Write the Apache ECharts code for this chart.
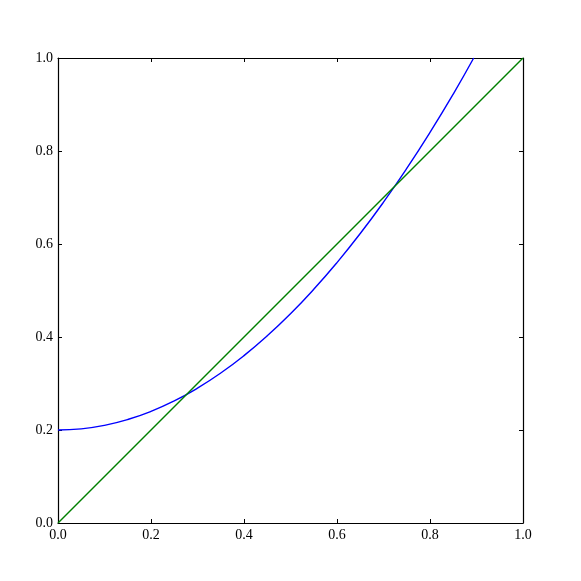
<!DOCTYPE html>
<html>
<head>
<meta charset="utf-8">
<script src="https://cdn.jsdelivr.net/npm/echarts@6/dist/echarts.min.js"></script>
<style>
  html, body { margin: 0; padding: 0; background: #fff; }
  #chart { width: 581px; height: 581px; }
</style>
</head>
<body>
<div id="chart"></div>
<script>
// values
var xValues = [0, 0.05, 0.1, 0.15, 0.2, 0.25, 0.3, 0.35, 0.4, 0.45, 0.5, 0.55, 0.6, 0.65, 0.7, 0.75, 0.8, 0.85, 0.894];
var curveValues = [0.2, 0.2025, 0.21, 0.2225, 0.24, 0.2625, 0.29, 0.3225, 0.36, 0.4025, 0.45, 0.5025, 0.56, 0.6225, 0.69, 0.7625, 0.84, 0.9225, 1.0];
var lineX = [0, 1];
var lineY = [0, 1];

var chart = echarts.init(document.getElementById('chart'));

function pairs(xs, ys) {
    return xs.map(function (x, i) { return [x, ys[i]]; });
}

var font = { fontFamily: 'Liberation Serif', fontSize: 14, color: '#000' };

function axis(pos, showLabel) {
    return {
        type: 'value',
        position: pos,
        min: 0, max: 1, interval: 0.2,
        axisLine: { show: true, onZero: false, lineStyle: { color: '#000', width: 1.2 } },
        axisTick: { show: true, inside: true, length: 4, lineStyle: { color: '#000' } },
        axisLabel: {
            show: showLabel,
            margin: 5,
            fontFamily: font.fontFamily, fontSize: font.fontSize, color: font.color,
            formatter: function (v) { return v.toFixed(1); }
        },
        splitLine: { show: false }
    };
}

chart.setOption({
    animation: false,
    grid: { left: 58, right: 58, top: 58, bottom: 58 },
    xAxis: [axis('bottom', true), axis('top', false)],
    yAxis: [axis('left', true), axis('right', false)],
    series: [
        {
            type: 'line',
            data: pairs(xValues, curveValues),
            smooth: true,
            showSymbol: false,
            lineStyle: { color: '#0000ff', width: 1.4 }
        },
        {
            type: 'line',
            data: pairs(lineX, lineY),
            showSymbol: false,
            lineStyle: { color: '#008000', width: 1.4 }
        }
    ]
});
</script>
</body>
</html>
